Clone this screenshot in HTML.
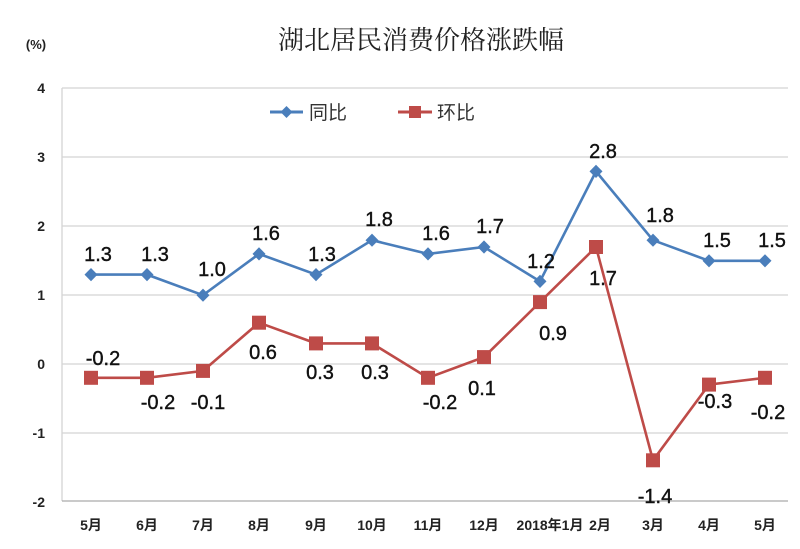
<!DOCTYPE html>
<html><head><meta charset="utf-8"><style>
body{margin:0;background:#fff;}
svg text{font-family:"Liberation Sans","Noto Sans CJK SC",sans-serif;}
</style></head><body>
<svg width="800" height="544" viewBox="0 0 800 544" xmlns="http://www.w3.org/2000/svg">
<rect width="800" height="544" fill="#fff"/>
<text x="421" y="49" font-size="26" text-anchor="middle" fill="#222" style="font-family:'Noto Serif CJK SC',serif">湖北居民消费价格涨跌幅</text>
<text x="36" y="49" font-size="13" font-weight="bold" text-anchor="middle" fill="#222">(%)</text>
<g stroke="#d4d4d4" stroke-width="1.3">
<line x1="62" y1="88" x2="788" y2="88"/><line x1="62" y1="157" x2="788" y2="157"/>
<line x1="62" y1="226" x2="788" y2="226"/><line x1="62" y1="295" x2="788" y2="295"/>
<line x1="62" y1="364" x2="788" y2="364"/><line x1="62" y1="433" x2="788" y2="433"/>
<line x1="62" y1="88" x2="62" y2="501"/>
</g>
<line x1="62" y1="501" x2="788" y2="501" stroke="#aaa" stroke-width="1.3"/>
<g font-size="14" font-weight="bold" text-anchor="end" fill="#222">
<text x="45" y="93">4</text><text x="45" y="162">3</text><text x="45" y="231">2</text>
<text x="45" y="300">1</text><text x="45" y="369">0</text><text x="45" y="438">-1</text><text x="45" y="507">-2</text>
</g>
<g font-size="14" font-weight="bold" text-anchor="middle" fill="#222">
<text x="91" y="530">5月</text><text x="147" y="530">6月</text><text x="203" y="530">7月</text>
<text x="259" y="530">8月</text><text x="316" y="530">9月</text><text x="372" y="530">10月</text>
<text x="428" y="530">11月</text><text x="484" y="530">12月</text><text x="550" y="530">2018年1月</text>
<text x="600" y="530">2月</text><text x="653" y="530">3月</text><text x="709" y="530">4月</text><text x="765" y="530">5月</text>
</g>
<line x1="270" y1="112" x2="303" y2="112" stroke="#4a7ebb" stroke-width="3"/>
<path d="M286.5 106 L292.5 112 L286.5 118 L280.5 112Z" fill="#4a7ebb"/>
<text x="309" y="119" font-size="19" fill="#333">同比</text>
<line x1="398" y1="112" x2="432" y2="112" stroke="#be4b48" stroke-width="3"/>
<rect x="409" y="106" width="12" height="12" fill="#be4b48"/>
<text x="437" y="119" font-size="19" fill="#333">环比</text>
<polyline fill="none" stroke="#4a7ebb" stroke-width="2.6" points="91,274.6 147,274.6 203,295.2 259,253.9 316,274.6 372,240.2 428,253.9 484,247 540,281.4 596,171.4 653,240.2 709,260.8 765,260.8"/>
<g fill="#4a7ebb">
<path d="M91 268l6.5 6.6-6.5 6.6-6.5-6.6z"/><path d="M147 268l6.5 6.6-6.5 6.6-6.5-6.6z"/>
<path d="M203 288.6l6.5 6.6-6.5 6.6-6.5-6.6z"/><path d="M259 247.3l6.5 6.6-6.5 6.6-6.5-6.6z"/>
<path d="M316 268l6.5 6.6-6.5 6.6-6.5-6.6z"/><path d="M372 233.6l6.5 6.6-6.5 6.6-6.5-6.6z"/>
<path d="M428 247.3l6.5 6.6-6.5 6.6-6.5-6.6z"/><path d="M484 240.4l6.5 6.6-6.5 6.6-6.5-6.6z"/>
<path d="M540 274.8l6.5 6.6-6.5 6.6-6.5-6.6z"/><path d="M596 164.8l6.5 6.6-6.5 6.6-6.5-6.6z"/>
<path d="M653 233.6l6.5 6.6-6.5 6.6-6.5-6.6z"/><path d="M709 254.2l6.5 6.6-6.5 6.6-6.5-6.6z"/>
<path d="M765 254.2l6.5 6.6-6.5 6.6-6.5-6.6z"/>
</g>
<polyline fill="none" stroke="#be4b48" stroke-width="2.6" points="91,377.8 147,377.8 203,370.9 259,322.7 316,343.4 372,343.4 428,377.8 484,357.1 540,302.1 596,247 653,460.3 709,384.6 765,377.8"/>
<g fill="#be4b48">
<rect x="84" y="370.8" width="14" height="14"/><rect x="140" y="370.8" width="14" height="14"/>
<rect x="196" y="363.9" width="14" height="14"/><rect x="252" y="315.7" width="14" height="14"/>
<rect x="309" y="336.4" width="14" height="14"/><rect x="365" y="336.4" width="14" height="14"/>
<rect x="421" y="370.8" width="14" height="14"/><rect x="477" y="350.1" width="14" height="14"/>
<rect x="533" y="295.1" width="14" height="14"/><rect x="589" y="240" width="14" height="14"/>
<rect x="646" y="453.3" width="14" height="14"/><rect x="702" y="377.6" width="14" height="14"/>
<rect x="758" y="370.8" width="14" height="14"/>
</g>
<g font-size="20" text-anchor="middle" fill="#111" stroke="#111" stroke-width="0.4">
<text x="98" y="261">1.3</text><text x="155" y="261">1.3</text><text x="212" y="276">1.0</text>
<text x="266" y="240">1.6</text><text x="322" y="261">1.3</text><text x="379" y="226">1.8</text>
<text x="436" y="240">1.6</text><text x="490" y="233">1.7</text><text x="541" y="268">1.2</text>
<text x="603" y="158">2.8</text><text x="660" y="222">1.8</text><text x="717" y="247">1.5</text><text x="772" y="247">1.5</text>
<text x="103" y="365">-0.2</text><text x="158" y="409">-0.2</text><text x="208" y="409">-0.1</text>
<text x="263" y="359">0.6</text><text x="320" y="379">0.3</text><text x="375" y="379">0.3</text>
<text x="440" y="409">-0.2</text><text x="482" y="395">0.1</text><text x="553" y="340">0.9</text>
<text x="603" y="285">1.7</text><text x="655" y="503">-1.4</text><text x="715" y="408">-0.3</text><text x="768" y="419">-0.2</text>
</g>
</svg>
</body></html>
